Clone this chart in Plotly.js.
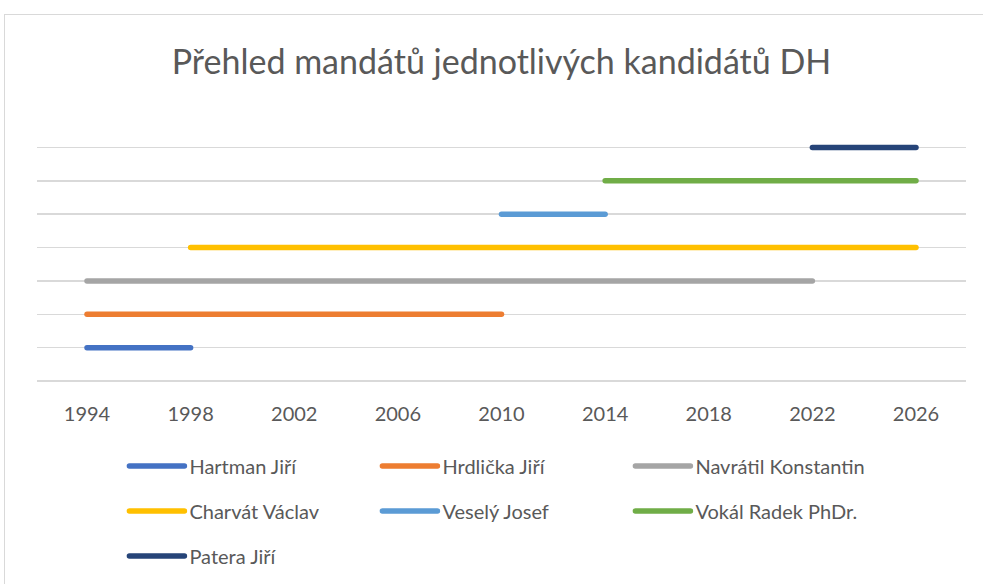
<!DOCTYPE html>
<html><head><meta charset="utf-8">
<script src="https://cdn.plot.ly/plotly-3.0.1.min.js"></script>
<style>
html,body{margin:0;padding:0;background:#fff;overflow:hidden;}
#frame{position:absolute;left:4px;top:14px;width:1200px;height:800px;border:1px solid #d9d9d9;box-sizing:border-box;}
#chart{position:absolute;left:0;top:0;width:983px;height:584px;}
.js-line{stroke-linecap:round;}
</style></head><body>
<div id="frame"></div>
<div id="chart"></div>
<script>
var names = ["Hartman Jiří","Hrdlička Jiří","Navrátil Konstantin","Charvát Václav","Veselý Josef","Vokál Radek PhDr.","Patera Jiří"];
var startYears = [1994,1994,1994,1998,2010,2014,2022];
var endYears = [1998,2010,2022,2026,2014,2026,2026];
var levels = [1,2,3,4,5,6,7];
var colors = ["#4472C4","#ED7D31","#A5A5A5","#FFC000","#5B9BD5","#70AD47","#264478"];
var tickYears = [1994,1998,2002,2006,2010,2014,2018,2022,2026];

var FONT = "Lato, 'Noto Sans', sans-serif";
var legendIds = ["legend","legend","legend","legend2","legend2","legend2","legend3"];
var traces = names.map(function(n,i){
  return {type:"scatter",mode:"lines",name:n,x:[startYears[i],endYears[i]],y:[levels[i],levels[i]],
    line:{color:colors[i],width:5.5},legend:legendIds[i],hoverinfo:"skip"};
});
function leg(y){
  return {orientation:"h",x:0.121,xref:"paper",xanchor:"left",y:y,yref:"container",yanchor:"middle",
    entrywidth:208,entrywidthmode:"pixels",font:{family:FONT,size:20,color:"#595959"},bgcolor:"rgba(0,0,0,0)",traceorder:"normal"};
}
var layout = {
  width:983,height:584,paper_bgcolor:"rgba(0,0,0,0)",plot_bgcolor:"rgba(0,0,0,0)",
  margin:{l:37,r:17,t:114,b:203},
  title:{text:"Přehled mandátů jednotlivých kandidátů DH",font:{family:FONT,size:34,color:"#595959"},x:0.5,xref:"paper",xanchor:"center",y:1-62/584,yanchor:"middle"},
  xaxis:{range:[1992.07,2027.93],tickvals:tickYears,ticktext:tickYears.map(String),showgrid:false,zeroline:false,showline:false,
    ticks:"",tickfont:{family:FONT,size:20,color:"#595959"},ticklabelstandoff:19},
  yaxis:{range:[0,8],dtick:1,showticklabels:false,showgrid:true,gridcolor:"#d9d9d9",gridwidth:1.5,zeroline:true,zerolinecolor:"#d9d9d9",zerolinewidth:1.5,showline:false},
  showlegend:true,
  legend:leg(1-466/584),legend2:leg(1-511/584),legend3:leg(1-556/584)
};
function stretchLegendLines(){
  var gd = document.getElementById("chart");
  gd.querySelectorAll("g.scrollbox, g[class^='legend']").forEach(function(g){ g.removeAttribute("clip-path"); });
  gd.querySelectorAll("g.legendlines path").forEach(function(p){
    p.setAttribute("d","M-20,0h55");
  });
}
Plotly.newPlot("chart",traces,layout,{displayModeBar:false,staticPlot:true}).then(function(){
  stretchLegendLines();
  setTimeout(stretchLegendLines,50);
});
</script></body></html>
